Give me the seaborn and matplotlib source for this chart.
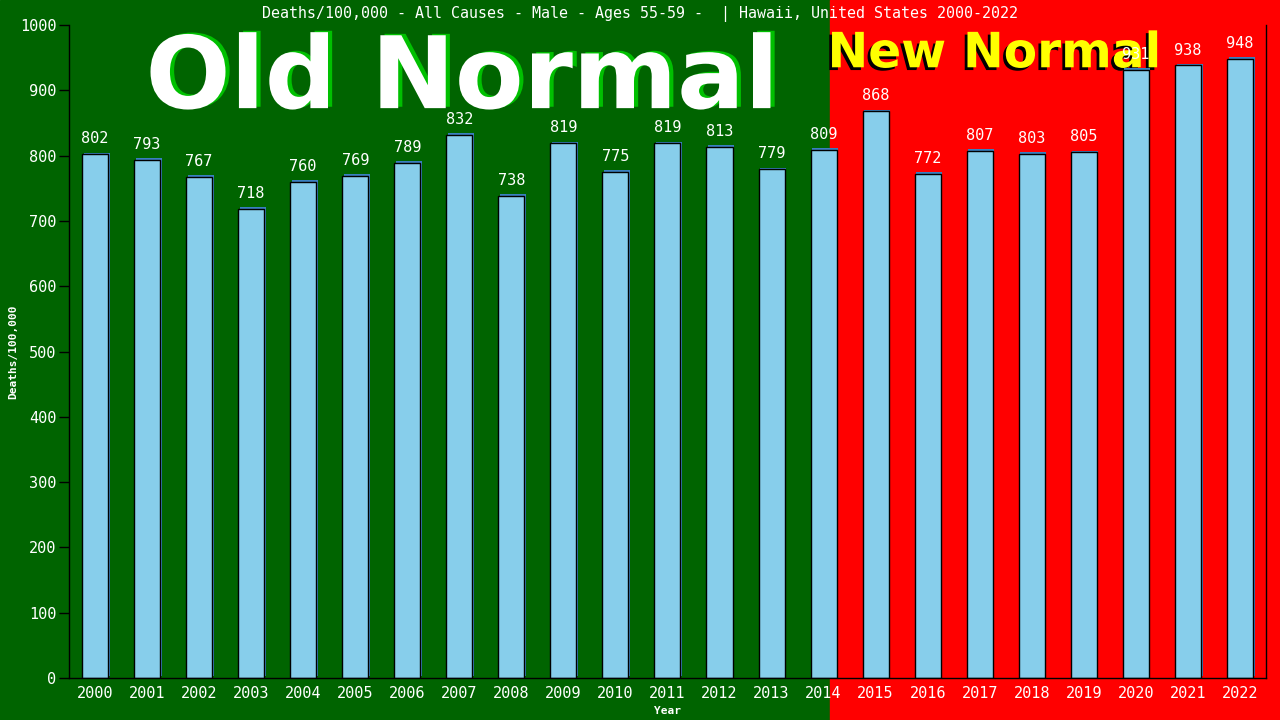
import pandas as pd
import matplotlib.pyplot as plt
import matplotlib.patheffects as pe
from matplotlib.patches import Rectangle
import seaborn as sns

# values
years = [str(y) for y in range(2000, 2023)]
deaths = [802, 793, 767, 718, 760, 769, 789, 832, 738, 819, 775, 819,
          813, 779, 809, 868, 772, 807, 803, 805, 931, 938, 948]
y_ticks = list(range(0, 1001, 100))

df = pd.DataFrame({"Year": years, "Deaths": deaths})

sns.set_theme(style="white")
plt.rcParams["font.family"] = ["DejaVu Sans Mono", "DejaVu Sans"]

fig = plt.figure(figsize=(12.8, 7.2), dpi=100)
# background: green "old normal", red "new normal"
fig.patches.append(Rectangle((0, 0), 0.6485, 1, transform=fig.transFigure,
                             color="#006400", zorder=-10))
fig.patches.append(Rectangle((0.6485, 0), 1 - 0.6485, 1, transform=fig.transFigure,
                             color="#ff0000", zorder=-10))

ax = fig.add_axes([0.0539, 0.0583, 0.9351, 0.9070])
ax.patch.set_alpha(0)
ax.set_zorder(2)  # bars + value labels above the big captions

sns.barplot(data=df, x="Year", y="Deaths", color="skyblue", width=0.5,
            edgecolor="black", linewidth=1, saturation=1, ax=ax)
for bar in ax.patches:
    bar.set_path_effects([pe.SimplePatchShadow(offset=(1.2, 1.2), shadow_rgbFace="#3a7fbf",
                                               alpha=1),
                          pe.Normal()])

ax.set_xlim(-0.5, 22.5)
ax.set_ylim(0, 1000)
ax.set_yticks(y_ticks)
ax.tick_params(axis="y", colors="black", labelcolor="white", length=7, width=1,
               direction="out", left=True, labelsize=11, pad=2)
ax.tick_params(axis="x", labelcolor="white", length=0, labelsize=11, pad=6)

for s in ["left", "bottom", "right"]:
    ax.spines[s].set_visible(True)
    ax.spines[s].set_color("black")
    ax.spines[s].set_linewidth(1)
ax.spines["top"].set_visible(False)

ax.set_xlabel("Year", color="white", fontsize=8, fontweight="bold", labelpad=3)
ax.set_ylabel("Deaths/100,000", color="white", fontsize=8, fontweight="bold", labelpad=1)

fig.text(0.5, 0.981, "Deaths/100,000 - All Causes - Male - Ages 55-59 -  | Hawaii, United States 2000-2022",
         ha="center", va="center", color="white", fontsize=10.8)

# big captions
fig.text(0.361, 0.888, "Old Normal", ha="center", va="center", color="white",
         fontsize=72, fontweight="bold", family=["DejaVu Sans"],
         path_effects=[pe.withSimplePatchShadow(offset=(3, 1), shadow_rgbFace="#00c000",
                                                alpha=1)],
         zorder=1)
fig.text(0.777, 0.926, "New Normal", ha="center", va="center", color="yellow",
         fontsize=35, fontweight="bold", family=["DejaVu Sans"],
         path_effects=[pe.withSimplePatchShadow(offset=(-2, -2), shadow_rgbFace="black",
                                                alpha=1)],
         zorder=1)

for i, v in enumerate(deaths):
    ax.text(i, v + 12, str(v), ha="center", va="bottom", color="white",
            fontsize=11, zorder=5)

fig.savefig("out.png", dpi=100)
